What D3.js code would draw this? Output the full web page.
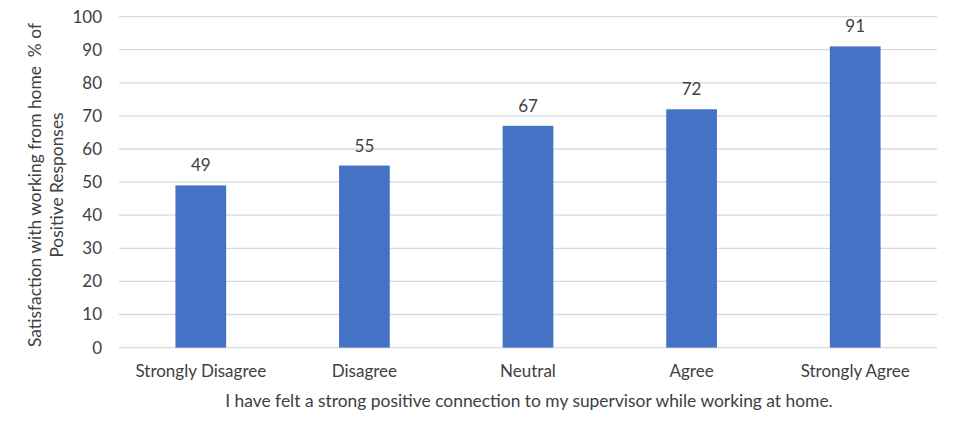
<!DOCTYPE html>
<html><head><meta charset="utf-8">
<script src="https://cdn.jsdelivr.net/npm/d3@7"></script>
<style>body{margin:0;background:#fff}svg{display:block}text{font-family:Lato,"Open Sans",sans-serif;fill:#404040;white-space:pre}</style>
</head><body>
<svg id="c" width="958" height="434"></svg>
<script>
const categories = ["Strongly Disagree","Disagree","Neutral","Agree","Strongly Agree"];
const values = [49,55,67,72,91];
const yTicks = [0,10,20,30,40,50,60,70,80,90,100];
const yTitle = ["Satisfaction with working from home  % of","Positive Responses"];
const xTitle = "I have felt a strong positive connection to my supervisor while working at home.";

(function(){
const svg = d3.select("#c");
const mL = 119, mR = 937, mT = 16.6, mB = 347.6;
const fs = 17;
const x = d3.scaleBand().domain(categories).range([mL,mR]).paddingInner(0.69).paddingOuter(0.345);
const y = d3.scaleLinear().domain([0,100]).range([mB,mT]);

svg.append("g").selectAll("line").data(yTicks).join("line")
  .attr("x1",mL).attr("x2",mR).attr("y1",d=>y(d)).attr("y2",d=>y(d))
  .attr("stroke","#d9d9d9").attr("stroke-width",1.3);

const yAxis = svg.append("g").attr("transform",`translate(${mL-17},0)`)
  .call(d3.axisLeft(y).tickValues(yTicks).tickSize(0).tickPadding(0));
yAxis.select(".domain").remove();
yAxis.selectAll("text").attr("font-size",fs).attr("fill","#404040").attr("font-family","Lato,sans-serif");

svg.append("g").selectAll("rect").data(values).join("rect")
  .attr("x",(d,i)=>x(categories[i])).attr("width",x.bandwidth())
  .attr("y",d=>y(d)).attr("height",d=>mB-y(d)).attr("fill","#4472c4");

svg.append("g").selectAll("text").data(values).join("text")
  .attr("x",(d,i)=>x(categories[i])+x.bandwidth()/2).attr("y",d=>y(d)-14)
  .attr("text-anchor","middle").attr("font-size",fs).text(d=>d);

const xAxis = svg.append("g").attr("transform",`translate(0,${mB})`)
  .call(d3.axisBottom(x).tickSize(0).tickPadding(17));
xAxis.select(".domain").remove();
xAxis.selectAll("text").attr("font-size",fs).attr("fill","#404040").attr("font-family","Lato,sans-serif");

svg.append("text").attr("x",529).attr("y",407).attr("text-anchor","middle").attr("font-size",17.4).text(xTitle);

const yt = svg.append("text").attr("transform","translate(41,185) rotate(-90)").attr("text-anchor","middle").attr("font-size",17.4);
yTitle.forEach((t,i)=>yt.append("tspan").attr("x",0).attr("dy",i?22:0).text(t));
})();
</script>
</body></html>
